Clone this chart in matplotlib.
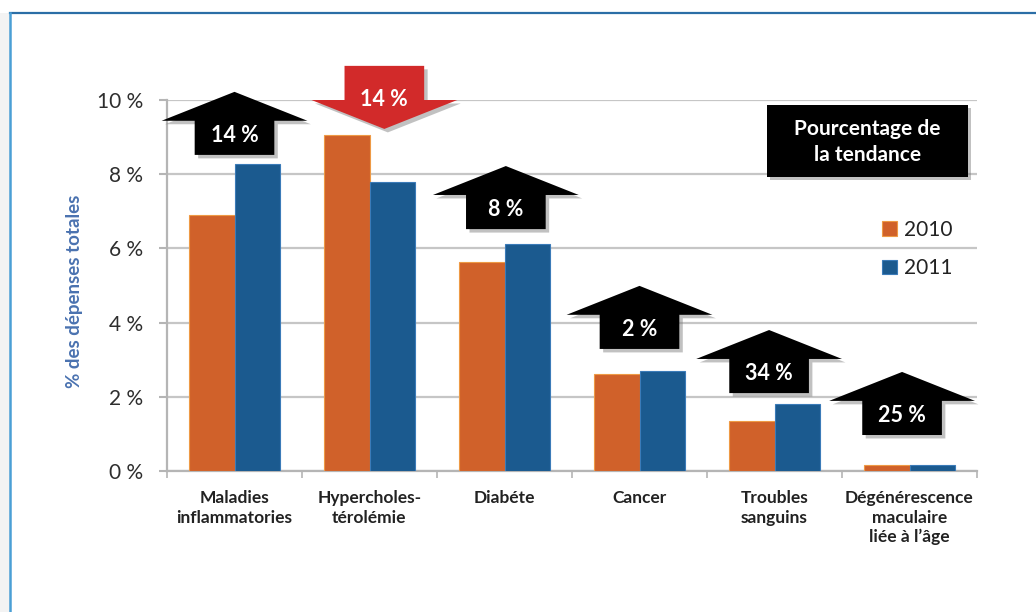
import matplotlib
matplotlib.use("Agg")
import matplotlib.pyplot as plt
import matplotlib.patheffects as pe
from matplotlib.patches import Polygon, Rectangle
from matplotlib.lines import Line2D
import numpy as np

plt.rcParams['font.family'] = ['Lato', 'DejaVu Sans']

# Data
categories = ["Maladies\ninflammatories", "Hypercholes-\ntérolémie", "Diabéte",
              "Cancer", "Troubles\nsanguins", "Dégénérescence\nmaculaire\nliée à l’âge"]
spend_2010 = [6.90, 9.06, 5.63, 2.61, 1.35, 0.16]
spend_2011 = [8.27, 7.79, 6.12, 2.70, 1.81, 0.17]
trend_labels = ["14 %", "14 %", "8 %", "2 %", "34 %", "25 %"]
trend_up = [True, False, True, True, True, True]
# vertical anchor of each trend arrow (base for up arrows, top for down arrow), in %
arrow_anchor = [8.52, 10.92, 6.52, 3.29, 2.10, 0.97]
arrow_shift = [0.0, 0.11, 0.01, 0.0, -0.04, -0.055]
yticks = [0, 2, 4, 6, 8, 10]
ytick_labels = ["0 %", "2 %", "4 %", "6 %", "8 %", "10 %"]

c2010 = "#d0612a"
c2011 = "#1b5a8f"

fig = plt.figure(figsize=(10.36, 6.12), dpi=100)
fig.patch.set_facecolor("white")

# page frame
fig.patches.append(Rectangle((0, 0), 9.5 / 1036, 1 - 13 / 612, transform=fig.transFigure,
                             facecolor="#f3f3f3", edgecolor="none", zorder=0))
fig.lines.append(Line2D([10 / 1036, 1.0], [1 - 13 / 612, 1 - 13 / 612], transform=fig.transFigure,
                        color="#2b6ea6", lw=1.6))
fig.lines.append(Line2D([10 / 1036, 10 / 1036], [0, 1 - 13 / 612], transform=fig.transFigure,
                        color="#4a9fd5", lw=1.8))

ax = fig.add_axes([167 / 1036, 1 - 471 / 612, 810 / 1036, 371 / 612])
x = np.arange(len(categories))
w = 0.34
ax.bar(x - w / 2, spend_2010, w, color=c2010, edgecolor="#ee9a45", linewidth=0.8, label="2010", zorder=3)
ax.bar(x + w / 2, spend_2011, w, color=c2011, edgecolor="#3b7bb8", linewidth=0.8, label="2011", zorder=3)

ax.set_xlim(-0.5, len(categories) - 0.5)
ax.set_ylim(0, 10)
ax.set_yticks(yticks)
ax.set_yticklabels(ytick_labels, fontsize=15, color="#2e2e2e")
ax.yaxis.grid(True, color="#c6c6c6", lw=1.6, zorder=0)
ax.set_axisbelow(True)

ax.set_xticks(x)
ax.set_xticklabels(categories, fontsize=12.5, fontweight="bold", color="#222222", linespacing=1.25)
ax.set_xticks(np.arange(len(categories) + 1) - 0.5, minor=True)
ax.tick_params(axis="x", which="major", length=0, pad=14)
ax.tick_params(axis="x", which="minor", length=5, width=1.2, color="#b5b5b5")
ax.tick_params(axis="y", length=6, width=1.5, color="#b5b5b5", pad=11)

for s in ["top", "right"]:
    ax.spines[s].set_visible(False)
for s in ["left", "bottom"]:
    ax.spines[s].set_color("#b5b5b5")
    ax.spines[s].set_linewidth(1.6)

ax.set_ylabel("% des dépenses totales", fontsize=13.5, fontweight="bold", color="#4a72b0")
ax.yaxis.set_label_coords(-0.104, 0.485)

# trend arrows
head_w, shaft_w = 1.08, 0.59
total_h, head_h = 1.7, 0.78
shadow = [pe.SimplePatchShadow(offset=(2.5, -2.5), shadow_rgbFace="#777777", alpha=0.45), pe.Normal()]
for i, (lab, up, a, dx) in enumerate(zip(trend_labels, trend_up, arrow_anchor, arrow_shift)):
    cx = x[i] + dx
    if up:
        b = a
        s = b + total_h - head_h
        t = b + total_h
        pts = [(cx - shaft_w / 2, b), (cx + shaft_w / 2, b), (cx + shaft_w / 2, s),
               (cx + head_w / 2, s), (cx, t), (cx - head_w / 2, s), (cx - shaft_w / 2, s)]
        face = "black"
        ty = (b + s) / 2 + 0.06
    else:
        tp = a
        s = tp - (total_h - head_h)
        t = tp - total_h
        pts = [(cx - shaft_w / 2, tp), (cx + shaft_w / 2, tp), (cx + shaft_w / 2, s),
               (cx + head_w / 2, s), (cx, t), (cx - head_w / 2, s), (cx - shaft_w / 2, s)]
        face = "#d22a2a"
        ty = s
    poly = Polygon(pts, closed=True, facecolor=face, edgecolor="none", clip_on=False, zorder=5)
    poly.set_path_effects(shadow)
    ax.add_patch(poly)
    ax.text(cx, ty, lab, ha="center", va="center", color="white", fontsize=15.5,
            fontweight="bold", zorder=6, clip_on=False)

# trend caption box
box = Rectangle((767 / 1036, 1 - 177 / 612), 201 / 1036, 72 / 612, transform=fig.transFigure,
                facecolor="black", edgecolor="none", zorder=5)
box.set_path_effects(shadow)
fig.patches.append(box)
fig.text(867.5 / 1036, 1 - 142 / 612, "Pourcentage de\nla tendance", ha="center", va="center",
         color="white", fontsize=15, fontweight="bold", linespacing=1.4, zorder=6)

leg = ax.legend(loc="center left", bbox_to_anchor=(882 / 1036, 1 - 249 / 612),
                bbox_transform=fig.transFigure, frameon=False, fontsize=15,
                handlelength=0.7, handleheight=0.7, handletextpad=0.35,
                labelspacing=0.9, borderpad=0, borderaxespad=0)
for t in leg.get_texts():
    t.set_color("#222222")

fig.savefig("out.png", dpi=100, facecolor="white")
